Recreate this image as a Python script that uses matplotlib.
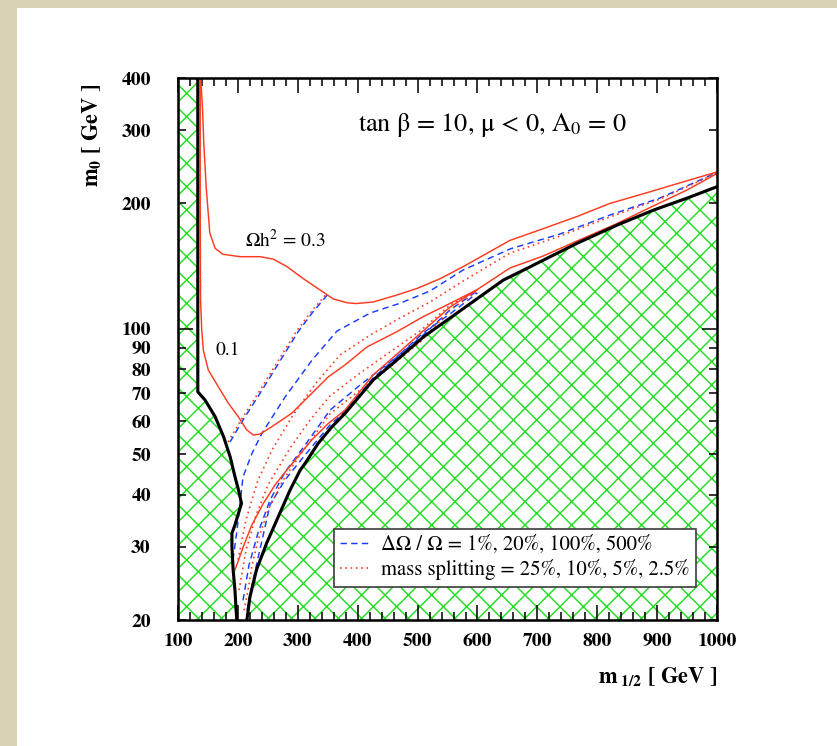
import matplotlib
matplotlib.use('Agg')
import matplotlib.pyplot as plt
from matplotlib.patches import Rectangle
from matplotlib.ticker import FixedLocator, FixedFormatter

plt.rcParams['font.family'] = ['STIXGeneral', 'DejaVu Sans']
plt.rcParams['mathtext.fontset'] = 'stix'
plt.rcParams['hatch.linewidth'] = 0.75
plt.rcParams['hatch.color'] = '#22dd22'

# ---- data (m_1/2 [GeV], m_0 [GeV]) ----
# excluded region on the left (black boundary)
lep_m0 = [400, 70.6, 67.5, 61.5, 55.1, 49.3, 44.2, 41.0, 38.1, 36.1, 33.8, 32.3, 30.0, 26.4, 23.6, 20]
lep_m12 = [133, 133, 145, 162, 176, 187, 195, 201, 206, 201, 195, 190, 190, 192, 195, 198]

# stau LSP boundary (black, lower right)
stau_m12 = [215, 220, 231, 248, 270, 287, 304, 312, 334, 357, 379, 426, 465, 510, 565, 604,
            643, 688, 710, 766, 833, 894, 949, 1000]
stau_m0 = [20, 22.7, 26.4, 30.6, 36.1, 41.0, 45.8, 47.5, 53.1, 58.2, 62.7, 75.4, 84.1, 95.7,
           108.9, 119.4, 130.9, 140.9, 146.2, 160.4, 177.4, 192.8, 205.7, 219.4]

# Omega h^2 = 0.3
om03_m12 = [138, 141, 143, 147, 153, 162, 175, 204, 237, 259, 282, 309, 337, 359, 382, 398,
            426, 465, 499, 538, 576, 620, 654, 710, 766, 821, 877, 933, 1000]
om03_m0 = [400, 335, 279, 219, 170, 156, 151, 149, 149, 147, 141, 132, 124, 118, 115.5, 115,
           116, 120.5, 125, 132, 141, 153, 163, 174, 186, 200, 211, 223, 238]

# Omega h^2 = 0.1
om01_m12 = [137, 137, 137.6, 139.6, 142.2, 150.6, 167.3, 184, 200.7, 214.7, 225.7, 236.9, 256.5,
            289.8, 323.2, 351, 378.8, 415.1, 465.2, 509.6, 554.2, 598.7, 654.3, 709.4, 766.2,
            831.3, 893.1, 949.9, 1000]
om01_m0 = [400, 204, 117.2, 99.3, 88.9, 79.6, 72.6, 66.3, 61.5, 57.2, 55.6, 55.9, 58.2, 62.7,
           70, 76.7, 81.9, 90.4, 98.4, 107, 115.1, 124, 140, 149.5, 162.5, 178.5, 197.1, 215.4, 236]

# lower branch of the 0.1 contour along the stau boundary
om01b_m12 = [195.2, 209, 223.1, 242.4, 262, 281.5, 295.4, 323.2, 351, 378.8, 425.6, 465.7,
             509.1, 554.2, 598.7]
om01b_m0 = [26.4, 30, 33.8, 38.1, 42.2, 45.8, 48.4, 54.1, 59.3, 63.8, 77.5, 87, 98.8, 112.8, 124]

# Delta Omega / Omega (blue dashed)
dA_m12 = [186.8, 208.5, 231.9, 256.9, 278.6, 300.3, 323.7, 349]
dA_m0 = [53.5, 60.4, 68.2, 77.9, 87.5, 98.3, 109.1, 120.5]
dB_m12 = [191.8, 198.5, 208.5, 223.6, 240.3, 278.7, 323.7, 365.5, 420.6, 470.7, 520.8, 575.9,
          654.3, 737.8, 821.3, 904.8, 1000]
dB_m0 = [27.9, 32.9, 44.1, 50.3, 56.2, 68.6, 84.1, 98.8, 109.1, 115.2, 123.3, 138.4, 155.5,
         168.9, 187.6, 206.1, 237.4]
dE_m12 = [208.5, 218.5, 233.6, 253.6, 278.7, 312.1, 353.8, 403.9, 454.0, 504.1, 554.2, 600]
dE_m0 = [22.3, 27.1, 32.4, 38.8, 45.3, 52.6, 63.8, 73.3, 83.2, 95.1, 111, 123.5]
dG_m12 = [215.2, 223.6, 233.6, 253.6, 278.7, 312.1, 353.8, 378.8, 425.6, 465.7, 509.1, 554.2, 600]
dG_m0 = [21.1, 24.3, 28.2, 37.8, 43.4, 49.8, 58.8, 63.3, 76.2, 85.6, 97.7, 108.6, 122]

# mass splitting (red dotted)
sA_m12 = [183.5, 205.2, 228.6, 253.6, 275.3, 297, 320.4, 347.1]
sA_m0 = [53.5, 60.4, 68.2, 77.9, 87.5, 98.3, 109.1, 121]
sC_m12 = [200.2, 213.5, 233.6, 257.0, 292.0, 330.4, 370.5, 420.6, 470.7, 520.8, 575.9, 654.3,
          737.8, 821.3, 904.8, 1000]
sC_m0 = [27.9, 34.8, 43.4, 51.2, 62.1, 74.1, 86.5, 96.6, 106.2, 116, 130.2, 152, 167, 185.6,
         204.9, 236.6]
sD_m12 = [201.9, 213.5, 230.2, 250.3, 287.0, 320.4, 353.8, 403.9, 454.0, 504.1, 554.2, 600]
sD_m0 = [23.6, 29.4, 35.7, 42.2, 51.7, 60.4, 69.0, 78.3, 88.0, 98.8, 114, 124]
sF_m12 = [210.2, 216.9, 223.6, 233.6, 250.3, 273.6, 303.7, 353.8, 403.9, 454.0, 504.1, 554.2, 600]
sF_m0 = [21.1, 23.6, 27.1, 31.1, 36.7, 42.9, 49.8, 62.5, 71.3, 81.0, 92.9, 111, 123]

x_major = list(range(100, 1001, 100))
x_minor = [v for v in range(100, 1001, 20) if v % 100]
y_major = [100]
y_minor = [20, 30, 40, 50, 60, 70, 80, 90, 200, 300, 400]

red = '#ff3a1f'
blue = '#1a3cff'
green = '#22dd22'

fig = plt.figure(figsize=(837 / 140, 746 / 140), dpi=140)
fig.patch.set_facecolor('#d7d3b3')
fig.add_artist(Rectangle((17 / 837, 0), 1, 738 / 746, transform=fig.transFigure,
                         facecolor='white', edgecolor='none', zorder=-1))
ax = fig.add_axes([0.2127, 0.1689, 0.644, 0.7265])

# hatched excluded regions
ax.fill_betweenx(lep_m0, 100, lep_m12, facecolor='none', edgecolor=green, hatch='xx', linewidth=0)
ax.fill_between(stau_m12, 20, stau_m0, facecolor='none', edgecolor=green, hatch='xx', linewidth=0)

dash = dict(color=blue, lw=0.75, dashes=(4.4, 2.9))
dot = dict(color=red, lw=0.85, dashes=(1.0, 2.2))
ax.plot(dA_m12, dA_m0, label='ΔΩ / Ω = 1%, 20%, 100%, 500%', **dash)
ax.plot(dB_m12, dB_m0, **dash)
ax.plot(dE_m12, dE_m0, **dash)
ax.plot(dG_m12, dG_m0, **dash)
ax.plot(sA_m12, sA_m0, label='mass splitting = 25%, 10%, 5%, 2.5%', **dot)
ax.plot(sC_m12, sC_m0, **dot)
ax.plot(sD_m12, sD_m0, **dot)
ax.plot(sF_m12, sF_m0, **dot)

ax.plot(om03_m12, om03_m0, color=red, lw=0.75)
ax.plot(om01_m12, om01_m0, color=red, lw=0.75)
ax.plot(om01b_m12, om01b_m0, color=red, lw=0.75)

ax.plot(lep_m12, lep_m0, color='black', lw=1.6)
ax.plot(stau_m12, stau_m0, color='black', lw=1.6)

ax.set_xlim(100, 1000)
ax.set_yscale('log')
ax.set_ylim(20, 400)

ax.xaxis.set_major_locator(FixedLocator(x_major))
ax.xaxis.set_major_formatter(FixedFormatter([str(v) for v in x_major]))
ax.xaxis.set_minor_locator(FixedLocator(x_minor))
ax.yaxis.set_major_locator(FixedLocator(y_major))
ax.yaxis.set_major_formatter(FixedFormatter([str(v) for v in y_major]))
ax.yaxis.set_minor_locator(FixedLocator(y_minor))
ax.yaxis.set_minor_formatter(FixedFormatter([str(v) for v in y_minor]))

ax.tick_params(which='both', direction='in', top=True, right=True, width=0.8, labelsize=10)
ax.tick_params(which='major', length=7.7)
ax.tick_params(which='minor', length=4)
ax.tick_params(axis='y', which='both', pad=14)
ax.tick_params(axis='x', which='both', pad=6.5)
for lab in ax.get_xticklabels(which='both') + ax.get_yticklabels(which='both'):
    lab.set_fontweight('bold')
for s in ax.spines.values():
    s.set_linewidth(1.3)

ax.text(0.334, 0.913, 'tan β = 10, μ < 0, A$_0$ = 0', transform=ax.transAxes,
        fontsize=13.5, va='center', ha='left')
ax.text(0.124, 0.701, 'Ωh$^2$ = 0.3', transform=ax.transAxes,
        fontsize=10, va='center', ha='left')
ax.text(0.069, 0.498, '0.1', transform=ax.transAxes,
        fontsize=10, va='center', ha='left')

ax.text(1.0, -0.116, r'$\mathbf{m}_{\ \mathbf{1/2}}$ [ GeV ]', transform=ax.transAxes,
        ha='right', va='baseline', fontsize=11.5, fontweight='bold')
ax.text(-0.16, 0.895, r'$\mathbf{m}_\mathbf{0}$ [ GeV ]', transform=ax.transAxes,
        rotation=90, ha='center', va='center', fontsize=11.5, fontweight='bold')

leg = ax.legend(loc='upper left', bbox_to_anchor=(0.289, 0.168), borderaxespad=0,
                prop={'size': 10.6}, fancybox=False, framealpha=1,
                edgecolor='#444444', handlelength=1.4, handletextpad=0.6,
                borderpad=0.3, labelspacing=0.22)
leg.get_frame().set_linewidth(0.9)

fig.savefig('out.png', dpi=140, facecolor=fig.get_facecolor())
